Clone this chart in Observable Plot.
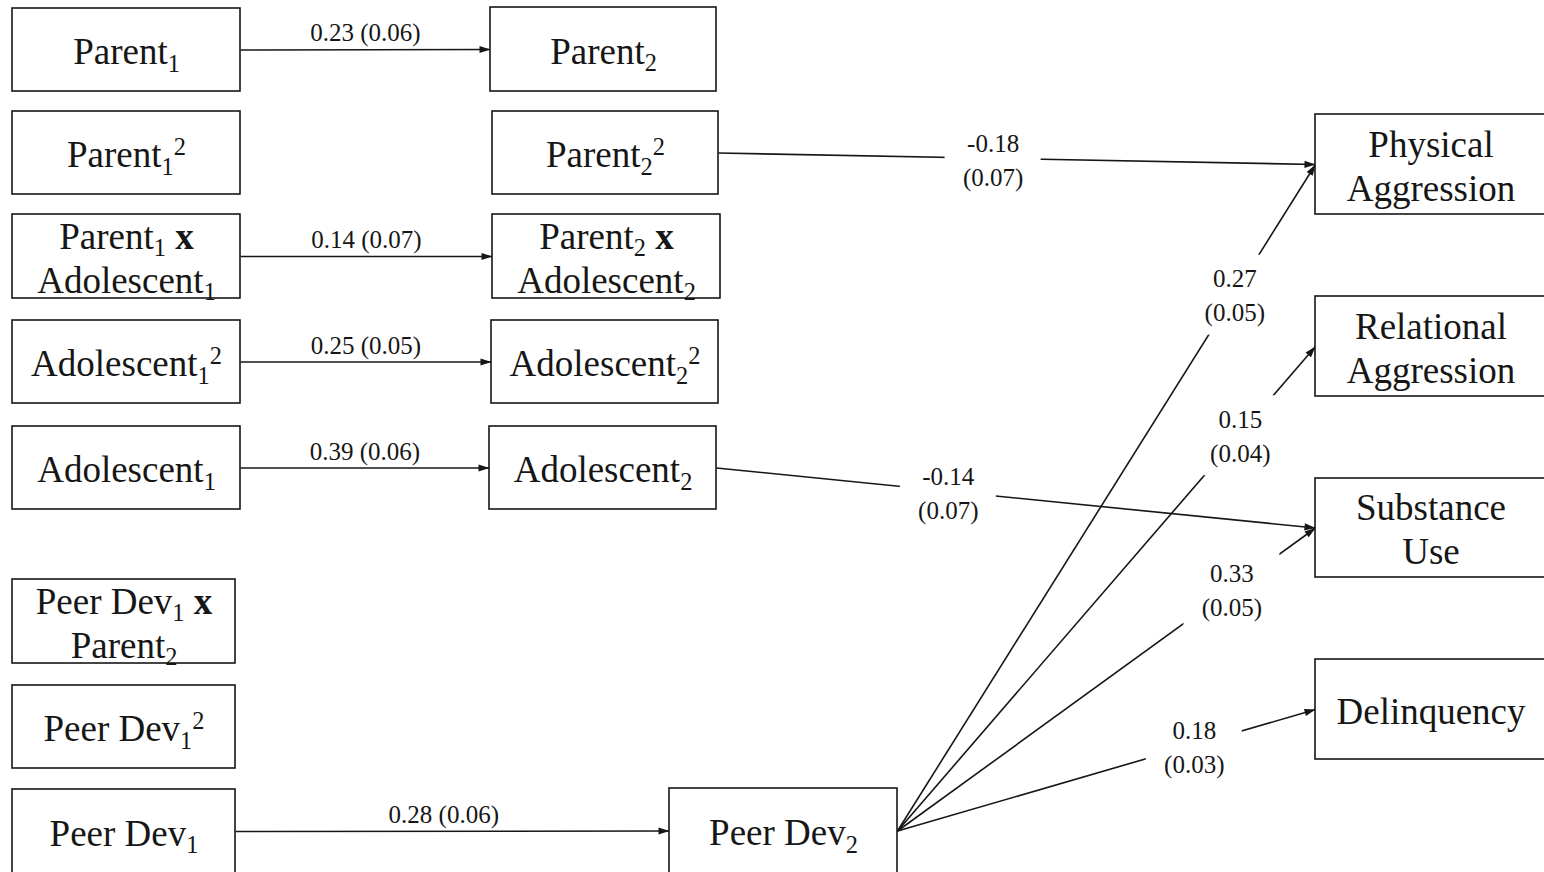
<!DOCTYPE html>
<html>
<head>
<meta charset="utf-8">
<script src="https://cdn.jsdelivr.net/npm/d3@7"></script>
<script src="https://cdn.jsdelivr.net/npm/@observablehq/plot@0.6"></script>
<style>
  html, body { margin: 0; padding: 0; background: #fff; }
  #chart svg { display: block; }
  #chart text { white-space: pre; }
</style>
</head>
<body>
<div id="chart"></div>
<script>
// ---------- Diagram data ----------
// Variables (boxes) of the path model
const nodeIds = ["P1", "P1sq", "P1xA1", "A1sq", "A1", "PD1xP2", "PD1sq", "PD1",
                 "P2", "P2sq", "P2xA2", "A2sq", "A2", "PD2",
                 "PA", "RA", "SU", "DQ"];
const nodeLabels = ["Parent₁", "Parent₁²", "Parent₁ x\nAdolescent₁", "Adolescent₁²", "Adolescent₁",
                    "Peer Dev₁ x\nParent₂", "Peer Dev₁²", "Peer Dev₁",
                    "Parent₂", "Parent₂²", "Parent₂ x\nAdolescent₂", "Adolescent₂²", "Adolescent₂", "Peer Dev₂",
                    "Physical\nAggression", "Relational\nAggression", "Substance\nUse", "Delinquency"];
// Diagram layout (box extents, in layout units)
const nodeLeft   = [12, 12, 12, 12, 12, 12, 12, 12, 490, 492, 492, 491, 489, 669, 1315, 1315, 1315, 1315];
const nodeRight  = [240, 240, 240, 240, 240, 235, 235, 235, 716, 718, 720, 718, 716, 897, 1546, 1546, 1546, 1546];
const nodeTop    = [8, 111, 214, 320, 426, 579, 685, 789, 7, 111, 214, 320, 426, 788, 114, 296, 478, 659];
const nodeBottom = [91, 194, 298, 403, 509, 663, 768, 873, 91, 194, 298, 403, 509, 873, 214, 396, 577, 759];

// Paths (arrows) with estimates and standard errors
const pathFrom     = ["P1", "P1xA1", "A1sq", "A1", "PD1", "P2sq", "A2", "PD2", "PD2", "PD2", "PD2"];
const pathTo       = ["P2", "P2xA2", "A2sq", "A2", "PD2", "PA", "SU", "PA", "RA", "SU", "DQ"];
const pathEstimate = ["0.23", "0.14", "0.25", "0.39", "0.28", "-0.18", "-0.14", "0.27", "0.15", "0.33", "0.18"];
const pathSE       = ["0.06", "0.07", "0.05", "0.06", "0.06", "0.07", "0.07", "0.05", "0.04", "0.05", "0.03"];
// where along each path its label sits (fraction of the path)
const labelAt      = [0.5, 0.5, 0.5, 0.5, 0.48, 0.46, 0.387, 0.807, 0.82, 0.80, 0.71];

// ---------- Build tables ----------
const FONT = '"Liberation Serif", "Times New Roman", Times, serif';
const INK = "#161616";

const nodes = nodeIds.map((id, i) => ({
  id, label: nodeLabels[i],
  x1: nodeLeft[i], x2: nodeRight[i], y1: nodeTop[i], y2: nodeBottom[i]
}));
const byId = new Map(nodes.map(n => [n.id, n]));
const midX = n => (n.x1 + n.x2) / 2;
const midY = n => (n.y1 + n.y2) / 2;

const paths = pathFrom.map((f, i) => {
  const s = byId.get(f), t = byId.get(pathTo[i]);
  const xa = s.x2, ya = midY(s), xb = t.x1, yb = midY(t);
  const k = labelAt[i];
  const level = Math.abs(yb - ya) < 5;
  return {
    xa, ya, xb, yb,
    lx: xa + k * (xb - xa), ly: ya + k * (yb - ya),
    level,
    text: level ? `${pathEstimate[i]} (${pathSE[i]})` : `${pathEstimate[i]}\n(${pathSE[i]})`,
    angle: Math.atan2(xb - xa, -(yb - ya)) * 180 / Math.PI
  };
});

// filled arrowhead pointing "up" with its tip at the origin
const arrowHead = {
  draw(ctx) {
    ctx.moveTo(0, 0);
    ctx.lineTo(-3.6, 11);
    ctx.lineTo(3.6, 11);
    ctx.closePath();
  }
};

const W = 1544, H = 872;
const chart = Plot.plot({
  width: W, height: H, margin: 0,
  x: {domain: [0, W], range: [0, W], axis: null},
  y: {domain: [0, H], range: [0, H], axis: null},
  style: {background: "white", fontFamily: FONT},
  marks: [
    Plot.link(paths, {x1: "xa", y1: "ya", x2: "xb", y2: "yb", stroke: INK, strokeWidth: 1.6}),
    Plot.rect(paths.filter(d => !d.level), {
      x1: d => d.lx - 48, x2: d => d.lx + 48,
      y1: d => d.ly + 2 - 40, y2: d => d.ly + 2 + 40,
      fill: "white"
    }),
    Plot.text(paths.filter(d => d.level), {
      x: "lx", y: "ly", dy: -16.5, text: "text",
      fontSize: 25, fontFamily: FONT, fill: INK
    }),
    Plot.text(paths.filter(d => !d.level), {
      x: "lx", y: "ly", text: "text", lineHeight: 1.36,
      fontSize: 25, fontFamily: FONT, fill: INK
    }),
    Plot.rect(nodes, {x1: "x1", x2: "x2", y1: "y1", y2: "y2", fill: "white", stroke: INK, strokeWidth: 1.6}),
    Plot.dot(paths, {x: "xb", y: "yb", rotate: "angle", symbol: arrowHead, fill: INK, stroke: "none"}),
    Plot.text(nodes, {
      x: midX, y: midY, text: "label", lineHeight: 1.19,
      fontSize: 37, fontFamily: FONT, fill: INK
    })
  ]
});
document.getElementById("chart").appendChild(chart);

// ---------- subscripts / superscripts as real tspans ----------
const SUBS = {"₁": "1", "₂": "2"};
const SUPS = {"²": "2"};
function enrich(el, F) {
  const s = el.textContent;
  if (!/[₁₂²]|\sx$/.test(s)) return;
  const toks = [];
  let buf = "";
  for (const c of s) {
    if (SUBS[c]) { if (buf) toks.push({k: "n", t: buf}); buf = ""; toks.push({k: "sub", t: SUBS[c]}); }
    else if (SUPS[c]) { if (buf) toks.push({k: "n", t: buf}); buf = ""; toks.push({k: "sup", t: SUPS[c]}); }
    else buf += c;
  }
  if (buf) {
    const m = buf.match(/^(.*\s)x$/);
    if (m) { toks.push({k: "n", t: m[1]}); toks.push({k: "b", t: "x"}); }
    else toks.push({k: "n", t: buf});
  }
  el.textContent = "";
  let cur = 0;
  for (const tok of toks) {
    const ts = document.createElementNS("http://www.w3.org/2000/svg", "tspan");
    const target = tok.k === "sub" ? 0.2 * F : tok.k === "sup" ? -0.34 * F : 0;
    if (target !== cur) { ts.setAttribute("dy", (target - cur).toFixed(2)); cur = target; }
    if (tok.k === "sub" || tok.k === "sup") ts.setAttribute("font-size", (0.66 * F).toFixed(1));
    if (tok.k === "b") ts.setAttribute("font-weight", "bold");
    ts.textContent = tok.t;
    el.appendChild(ts);
  }
}
chart.querySelectorAll("text").forEach(t => {
  const F = parseFloat(getComputedStyle(t).fontSize) || 37;
  const lines = Array.from(t.children).filter(c => c.tagName.toLowerCase() === "tspan");
  (lines.length ? lines : [t]).forEach(el => enrich(el, F));
});
</script>
</body>
</html>
